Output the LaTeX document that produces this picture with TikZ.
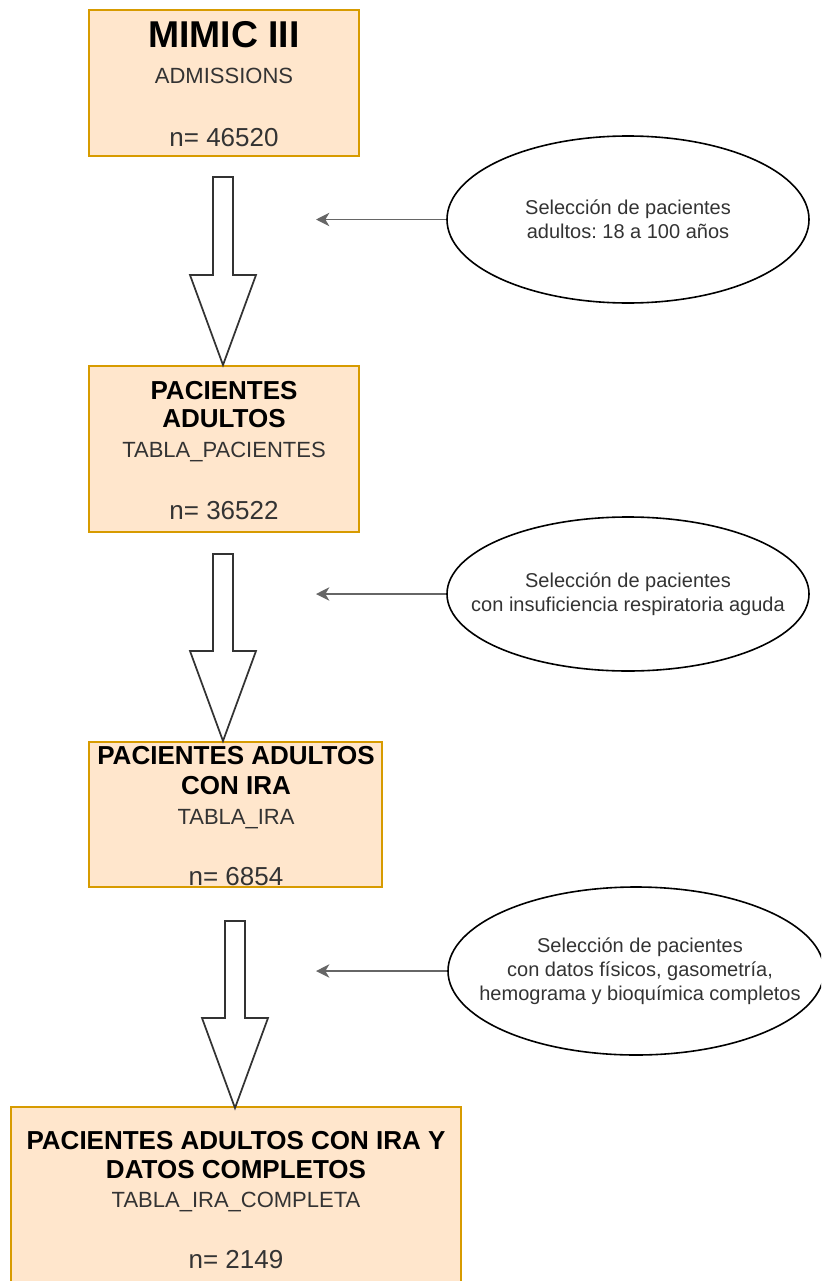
\documentclass[tikz,border=0pt]{standalone}
\usepackage{fontspec}
\setmainfont{Liberation Sans}
\frenchspacing
\usetikzlibrary{shapes.geometric,arrows.meta}
\definecolor{boxfill}{HTML}{FFE6CC}
\definecolor{boxline}{HTML}{D79B00}
\definecolor{txtgray}{HTML}{333333}
\definecolor{arrgray}{HTML}{666666}
\newcommand{\flowarrow}[3]{%
\draw[flow] ({#1-10},#2) -- ({#1+10},#2) -- ({#1+10},{#3-90}) -- ({#1+33},{#3-90}) -- (#1,#3) -- ({#1-33},{#3-90}) -- ({#1-10},{#3-90}) -- cycle;}

\begin{document}
\begin{tikzpicture}[x=0.75pt,y=-0.75pt,
  box/.style={draw=boxline,fill=boxfill,line width=1.5pt,inner sep=0pt},
  title/.style={anchor=base,font=\fontsize{28}{32}\selectfont\bfseries},
  head/.style={anchor=base,font=\fontsize{19.5}{22}\selectfont\bfseries},
  tabla/.style={anchor=base,text=txtgray,font=\fontsize{16.5}{19}\selectfont},
  count/.style={anchor=base,text=txtgray,font=\fontsize{19.5}{22}\selectfont},
  sel/.style={draw,ellipse,line width=1.2pt,inner sep=0pt},
  seltext/.style={align=center,inner sep=0pt,text=txtgray,font=\fontsize{15}{18}\selectfont},
  flow/.style={draw=black!80,fill=white,line width=1.3pt,line join=miter},
  pointer/.style={draw=arrgray,line width=1.2pt,-{Stealth[length=10pt,width=10pt,inset=3pt]}}]
\clip (0,0) rectangle (821,1281);

\node[box,minimum width=202.5pt,minimum height=109.5pt] (b0) at (224,83) {};
\node[box,minimum width=202.5pt,minimum height=124.5pt] (b1) at (224,449) {};
\node[box,minimum width=219.75pt,minimum height=108.75pt] (b2) at (235.5,814.5) {};
\node[box,minimum width=337.5pt,minimum height=144.75pt] (b3) at (236,1203.5) {};

\node[title] (t0a) at (224,48) {MIMIC III};
\node[tabla] (t0b) at (224,84) {ADMISSIONS};
\node[count] (t0c) at (224,146) {n= 46520};

\node[head] (t1a) at (224,399) {PACIENTES};
\node[head] (t1b) at (224,427) {ADULTOS};
\node[tabla] (t1c) at (224,457) {TABLA\_PACIENTES};
\node[count] (t1d) at (224,519) {n= 36522};

\node[head] (t2a) at (236,764) {PACIENTES ADULTOS};
\node[head] (t2b) at (236,794) {CON IRA};
\node[tabla] (t2c) at (236,824) {TABLA\_IRA};
\node[count] (t2d) at (236,885) {n= 6854};

\node[head] (t3a) at (236,1149) {PACIENTES ADULTOS CON IRA Y};
\node[head] (t3b) at (236,1178) {DATOS COMPLETOS};
\node[tabla] (t3c) at (236,1207) {TABLA\_IRA\_COMPLETA};
\node[count] (t3d) at (236,1268) {n= 2149};

\flowarrow{223}{177}{365}
\flowarrow{223}{554}{741}
\flowarrow{235}{921}{1108}

\node[sel,minimum width=271.5pt,minimum height=125.25pt] (e0) at (628,219.5) {};
\node[sel,minimum width=271.5pt,minimum height=115.5pt] (e1) at (628,594) {};
\node[sel,minimum width=282pt,minimum height=126pt] (e2) at (636,971) {};

\node[seltext] (l0) at (e0.center) {Selección de pacientes\\adultos: 18 a 100 años};
\node[seltext] (l1) at (e1.center) {Selección de pacientes\\con insuficiencia respiratoria aguda};
\node[seltext] (l2) at (640,971) {Selección de pacientes\\con datos físicos, gasometría,\\hemograma y bioquímica completos};

\coordinate (s0) at (316,219.5);
\coordinate (s1) at (316,594);
\coordinate (s2) at (316,971);

\draw[pointer] (e0.west) -- (s0);
\draw[pointer] (e1.west) -- (s1);
\draw[pointer] (e2.west) -- (s2);

\end{tikzpicture}
\end{document}
